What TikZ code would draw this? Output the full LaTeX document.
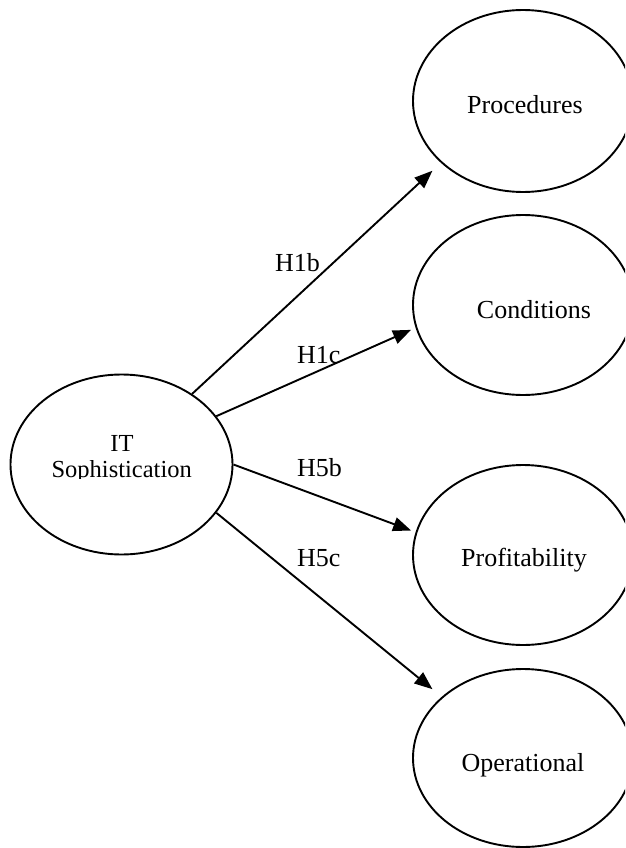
\documentclass[tikz,border=0pt]{standalone}
\usepackage{fontspec}
\setmainfont{Liberation Serif}
\usetikzlibrary{shapes.geometric,arrows.meta}
\begin{document}
\begin{tikzpicture}[x=1pt,y=-1pt,
  construct/.style={ellipse,draw,line width=1.9pt,inner sep=0pt},
  link/.style={line width=1.9pt,-{Triangle[length=18pt,width=14pt]}},
  caption/.style={font=\fontsize{26}{26}\selectfont,inner sep=0pt,anchor=base},
  hyp/.style={font=\fontsize{26}{26}\selectfont,inner sep=0pt,anchor=base west}]
\clip (0,0) rectangle (625,848);

% constructs
\node[construct,minimum width=222pt,minimum height=180pt] (it)   at (121.5,464.5) {};
\node[construct,minimum width=220pt,minimum height=182pt] (proc) at (523,101) {};
\node[construct,minimum width=220pt,minimum height=180pt] (cond) at (523,305) {};
\node[construct,minimum width=220pt,minimum height=180pt] (prof) at (523,555) {};
\node[construct,minimum width=220pt,minimum height=178pt] (op)   at (523,758) {};

% construct names
\begin{scope}
  \clip (0,0) rectangle (625,478.5);
  \node[caption,font=\fontsize{24.5}{24.5}\selectfont] (itname) at (122,451.7) {IT};
  \node[caption,font=\fontsize{24.5}{24.5}\selectfont] (itname2) at (121.7,477.3) {Sophistication};
\end{scope}
\node[caption] (procname) at (525,113.3) {Procedures};
\node[caption] (condname) at (534,318.3) {Conditions};
\node[caption] (profname) at (524,566.7) {Profitability};
\node[caption] (opname)   at (523,771.7) {Operational};

% hypothesised paths
\draw[link,shorten >=11.6pt] (it.45)  -- (proc.217);
\draw[link,shorten >=5pt]    (it.27)  -- (cond.192);
\draw[link,shorten >=4.8pt]  (it.0)   -- (prof.168);
\draw[link,shorten >=12pt]   (it.-27) -- (op.143);

% path labels
\node[hyp] (h1b) at (275,271.7) {H1b};
\node[hyp] (h1c) at (297,363)   {H1c};
\node[hyp] (h5b) at (297,476.7) {H5b};
\node[hyp] (h5c) at (297,566.7) {H5c};
\end{tikzpicture}
\end{document}
